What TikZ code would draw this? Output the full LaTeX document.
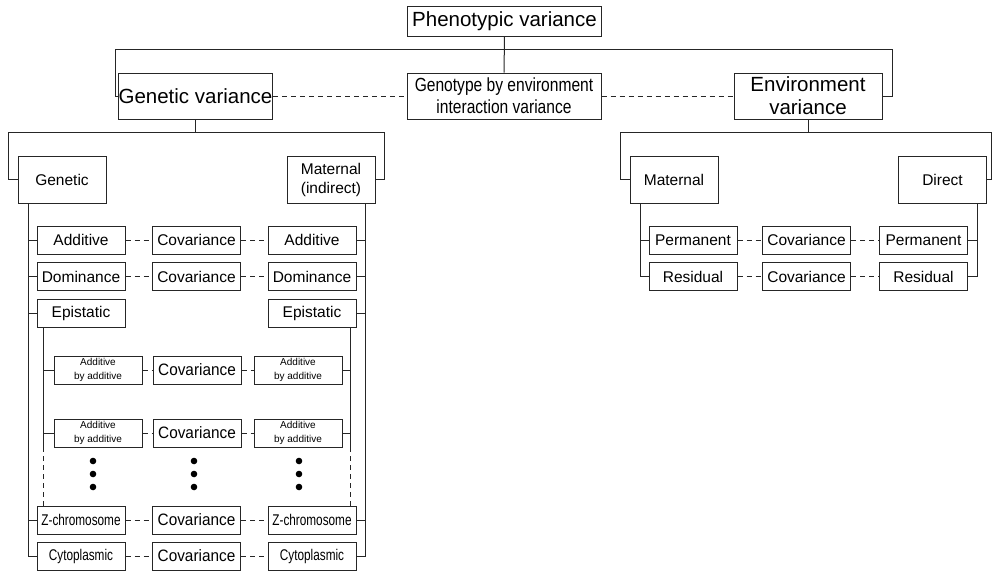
\documentclass[tikz,border=0pt]{standalone}
\usepackage{fontspec}
\setmainfont{Liberation Sans}
\newfontfamily\gxefont[FakeStretch=0.82]{Liberation Sans}
\newfontfamily\narrowfont[FakeStretch=0.76]{Liberation Sans}
\newfontfamily\covfont[FakeStretch=0.93]{Liberation Sans}
\usepackage{tikz}

\begin{document}
\begin{tikzpicture}[x=1pt,y=-1pt,line width=1pt,draw=black!85]
\tikzstyle{vbox}=[rectangle,draw=black!85,line width=1pt,inner sep=0pt,align=center]
\tikzstyle{bigbox}=[vbox,minimum width=194pt,minimum height=46pt,font=\fontsize{20.5}{23}\selectfont]
\tikzstyle{midbox}=[vbox,minimum width=88pt,minimum height=47pt,font=\fontsize{15.5}{19}\selectfont]
\tikzstyle{rowbox}=[vbox,minimum width=88pt,minimum height=28pt,font=\fontsize{15.5}{18}\selectfont]
\tikzstyle{tinybox}=[rowbox,font=\fontsize{10}{13.3}\selectfont]
\tikzstyle{narrowbox}=[rowbox,font=\narrowfont\fontsize{15.5}{18}\selectfont]
\tikzstyle{covbox}=[rowbox,font=\covfont\fontsize{16.5}{18}\selectfont]
\tikzstyle{dashline}=[dash pattern=on 5pt off 4pt]
\useasboundingbox (0,0) rectangle (992,571);
\node [bigbox,minimum height=30pt] (pheno) at (504.5,21) {Phenotypic variance};
\node [bigbox,minimum width=147pt] (gv) at (195.5,96) {Genetic variance};
\node [bigbox,font=\gxefont\fontsize{19}{22}\selectfont] (gxe) at (504,96) {Genotype by environment\\interaction variance};
\node [bigbox,minimum width=148pt] (env) at (808,96) {Environment\\variance};
\node [midbox] (gen) at (62,179.5) {Genetic};
\node [midbox] (matg) at (331,179.5) {Maternal\\(indirect)};
\node [midbox] (mate) at (674,179.5) {Maternal};
\node [midbox] (dir) at (942.5,179.5) {Direct};
\node [rowbox] (addL) at (81,240) {Additive};
\node [rowbox] (covA) at (196.5,240) {Covariance};
\node [rowbox] (addR) at (312,240) {Additive};
\node [rowbox] (domL) at (81,276.5) {Dominance};
\node [rowbox] (covD) at (196.5,276.5) {Covariance};
\node [rowbox] (domR) at (312,276.5) {Dominance};
\node [rowbox] (epiL) at (81,313) {Epistatic};
\node [rowbox] (epiR) at (312,313) {Epistatic};
\node [tinybox] (aaL1) at (98,370) {Additive\\by additive};
\node [covbox] (covAA1) at (197,370) {Covariance};
\node [tinybox] (aaR1) at (298,370) {Additive\\by additive};
\node [tinybox] (aaL2) at (98,433) {Additive\\by additive};
\node [covbox] (covAA2) at (197,433) {Covariance};
\node [tinybox] (aaR2) at (298,433) {Additive\\by additive};
\node [narrowbox] (zL) at (81,520) {Z-chromosome};
\node [covbox] (covZ) at (196.5,520) {Covariance};
\node [narrowbox] (zR) at (312,520) {Z-chromosome};
\node [narrowbox] (cytL) at (81,556) {Cytoplasmic};
\node [covbox] (covC) at (196.5,556) {Covariance};
\node [narrowbox] (cytR) at (312,556) {Cytoplasmic};
\node [rowbox] (permL) at (693,240) {Permanent};
\node [rowbox] (covP) at (806.5,240) {Covariance};
\node [rowbox] (permR) at (923.5,240) {Permanent};
\node [rowbox] (resL) at (693,276.5) {Residual};
\node [rowbox] (covR) at (806.5,276.5) {Covariance};
\node [rowbox] (resR) at (923.5,276.5) {Residual};
\coordinate (topL) at (115,49);
\coordinate (topR) at (892,49);
\coordinate (gbarL) at (8,132);
\coordinate (gbarR) at (384,132);
\coordinate (ebarL) at (620,132);
\coordinate (ebarR) at (991.5,132);
\coordinate (gtr) at (28,203);
\coordinate (mtr) at (365,203);
\coordinate (estL) at (43,327);
\coordinate (ebrL) at (43,447);
\coordinate (estR) at (350,327);
\coordinate (ebrR) at (350,447);
\coordinate (mtrE) at (640,203);
\coordinate (dtr) at (977,203);
\draw (gv.west) -| (topL) -- (topR) |- (env.east);
\draw (pheno.south) -- (gxe.north);
\draw [dashline] (gv.east) -- (gxe.west);
\draw [dashline] (gxe.east) -- (env.west);
\draw (gv.south) -- (gv.south |- gbarL);
\draw (gen.west) -| (gbarL) -- (gbarR) |- (matg.east);
\draw (env.south) -- (env.south |- ebarL);
\draw (mate.west) -| (ebarL) -- (ebarR) |- (dir.east);
\draw (gtr) |- (cytL.west);
\draw (addL.west) -- (addL.west -| gtr);
\draw (domL.west) -- (domL.west -| gtr);
\draw (epiL.west) -- (epiL.west -| gtr);
\draw (zL.west) -- (zL.west -| gtr);
\draw (mtr) |- (cytR.east);
\draw (addR.east) -- (addR.east -| mtr);
\draw (domR.east) -- (domR.east -| mtr);
\draw (epiR.east) -- (epiR.east -| mtr);
\draw (zR.east) -- (zR.east -| mtr);
\draw (estL) -- (ebrL);
\draw [dashline] (ebrL) -- (ebrL |- zL.north);
\draw (aaL1.west) -- (aaL1.west -| estL);
\draw (aaL2.west) -- (aaL2.west -| estL);
\draw (estR) -- (ebrR);
\draw [dashline] (ebrR) -- (ebrR |- zR.north);
\draw (aaR1.east) -- (aaR1.east -| estR);
\draw (aaR2.east) -- (aaR2.east -| estR);
\draw [dashline] (addL.east) -- (covA.west);
\draw [dashline] (covA.east) -- (addR.west);
\draw [dashline] (domL.east) -- (covD.west);
\draw [dashline] (covD.east) -- (domR.west);
\draw [dashline] (aaL1.east) -- (covAA1.west);
\draw [dashline] (covAA1.east) -- (aaR1.west);
\draw [dashline] (aaL2.east) -- (covAA2.west);
\draw [dashline] (covAA2.east) -- (aaR2.west);
\draw [dashline] (zL.east) -- (covZ.west);
\draw [dashline] (covZ.east) -- (zR.west);
\draw [dashline] (cytL.east) -- (covC.west);
\draw [dashline] (covC.east) -- (cytR.west);
\draw (mtrE) |- (resL.west);
\draw (permL.west) -- (permL.west -| mtrE);
\draw (dtr) |- (resR.east);
\draw (permR.east) -- (permR.east -| dtr);
\draw [dashline] (permL.east) -- (covP.west);
\draw [dashline] (covP.east) -- (permR.west);
\draw [dashline] (resL.east) -- (covR.west);
\draw [dashline] (covR.east) -- (resR.west);
\fill (93,461) circle (3.3pt);
\fill (93,474) circle (3.3pt);
\fill (93,487) circle (3.3pt);
\fill (194,461) circle (3.3pt);
\fill (194,474) circle (3.3pt);
\fill (194,487) circle (3.3pt);
\fill (299,461) circle (3.3pt);
\fill (299,474) circle (3.3pt);
\fill (299,487) circle (3.3pt);
\end{tikzpicture}
\end{document}
